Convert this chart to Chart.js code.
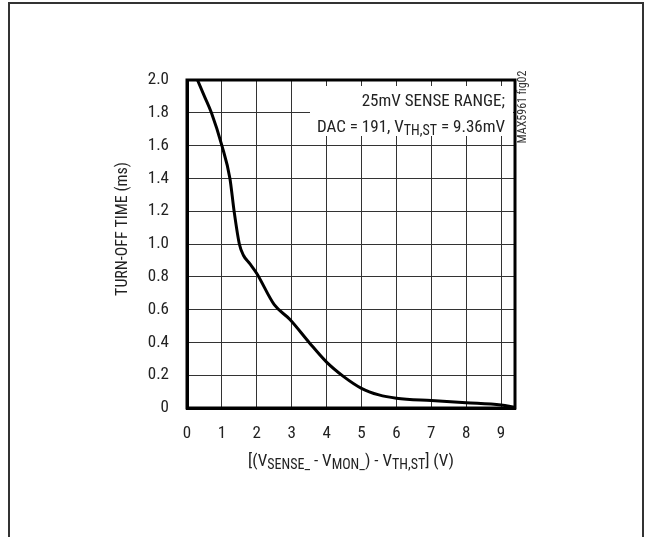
<!DOCTYPE html>
<html>
<head>
<meta charset="utf-8">
<script src="https://cdn.jsdelivr.net/npm/chart.js@4/dist/chart.umd.min.js"></script>
<style>
  html, body { margin: 0; padding: 0; background: #fff; }
  #wrap { position: relative; width: 650px; height: 537px; }
</style>
</head>
<body>
<div id="wrap"><canvas id="canvas-1" width="650" height="537"></canvas></div>
<script>
const FONT = "'Roboto Condensed', 'Liberation Sans', sans-serif"

// curve
const vDiff   = [0.3, 0.5, 0.7, 1.0, 1.23, 1.35, 1.5, 1.62, 1.8, 2.0, 2.5, 2.95, 3.5, 4.0, 4.5, 5.0, 5.5, 6.0, 7.0, 8.0, 9.0, 9.4]
const turnOff = [2.0, 1.9, 1.8, 1.6, 1.4, 1.2, 1.0, 0.93, 0.88, 0.82, 0.63, 0.54, 0.40, 0.28, 0.19, 0.12, 0.08, 0.06, 0.045, 0.032, 0.018, 0.005]

const xTickValues = [0, 1, 2, 3, 4, 5, 6, 7, 8, 9]
const xTickLabels = ['0', '1', '2', '3', '4', '5', '6', '7', '8', '9']
const yTickValues = [0, 0.2, 0.4, 0.6, 0.8, 1.0, 1.2, 1.4, 1.6, 1.8, 2.0]
const yTickLabels = ['0', '0.2', '0.4', '0.6', '0.8', '1.0', '1.2', '1.4', '1.6', '1.8', '2.0']

const yTitle = 'TURN-OFF TIME (ms)'
const xTitle = [['[(V', false], ['SENSE_', true], [' - V', false], ['MON_', true], [') - V', false], ['TH,ST', true], ['] (V)', false]]
const note1 = [['25mV SENSE RANGE;', false]]
const note2 = [['DAC = 191, V', false], ['TH,ST', true], [' = 9.36mV', false]]
const figId = 'MAX5961 fig02'

// text with subscripts
function richText(ctx, parts, x, y, align, size) {
  const sub = Math.round(size * 0.8)
  let w = 0
  parts.forEach(p => {
    ctx.font = (p[1] ? sub : size) + 'px ' + FONT
    w += ctx.measureText(p[0]).width
  })
  let cx = align === 'right' ? x - w : align === 'center' ? x - w / 2 : x
  ctx.textAlign = 'left'
  ctx.textBaseline = 'alphabetic'
  parts.forEach(p => {
    ctx.font = (p[1] ? sub : size) + 'px ' + FONT
    ctx.fillText(p[0], cx, p[1] ? y + 3 : y)
    cx += ctx.measureText(p[0]).width
  })
}

const decor = {
  id: 'decor',
  beforeDatasetsDraw(chart) {
    const ctx = chart.ctx
    ctx.save()
    ctx.fillStyle = '#fff'
    ctx.fillRect(310, 86, 203, 50)
    ctx.restore()
  },
  afterDraw(chart) {
    const ctx = chart.ctx
    const a = chart.chartArea
    ctx.save()
    // plot frame
    ctx.strokeStyle = '#000'
    ctx.lineWidth = 3
    ctx.strokeRect(a.left, a.top, a.right - a.left, a.bottom - a.top)
    // outer page frame
    ctx.strokeStyle = '#333'
    ctx.lineWidth = 2
    ctx.beginPath()
    ctx.moveTo(9, 537); ctx.lineTo(9, 3); ctx.lineTo(643, 3); ctx.lineTo(643, 537)
    ctx.stroke()

    ctx.fillStyle = '#222'
    richText(ctx, note1, 505, 106, 'right', 17)
    richText(ctx, note2, 505, 132, 'right', 17)
    richText(ctx, xTitle, 351, 466, 'center', 17)

    ctx.translate(123, 229)
    ctx.rotate(-Math.PI / 2)
    ctx.font = '16px ' + FONT
    ctx.textAlign = 'center'
    ctx.textBaseline = 'middle'
    ctx.fillText(yTitle, 0, 0)
    ctx.restore()

    ctx.save()
    ctx.translate(523, 107)
    ctx.rotate(-Math.PI / 2)
    ctx.font = '12px ' + FONT
    ctx.textAlign = 'center'
    ctx.textBaseline = 'middle'
    ctx.fillStyle = '#333'
    ctx.fillText(figId, 0, 0)
    ctx.restore()
  }
}

const turnOffChart = new Chart(document.getElementById('canvas-1'), {
  type: 'line',
  data: {
    datasets: [{
      data: vDiff.map((v, i) => ({ x: v, y: turnOff[i] })),
      borderColor: '#000',
      backgroundColor: 'transparent',
      borderWidth: 3,
      pointRadius: 0,
      cubicInterpolationMode: 'monotone'
    }]
  },
  options: {
    responsive: false,
    animation: false,
    events: [],
    layout: { padding: { top: 80, right: 135, bottom: 0, left: 0 } },
    plugins: { legend: { display: false }, tooltip: { enabled: false } },
    scales: {
      x: {
        type: 'linear',
        min: 0,
        max: 9.4,
        afterBuildTicks: s => { s.ticks = xTickValues.map(v => ({ value: v })) },
        afterFit: s => { s.height = 129 },
        grid: { color: '#333', lineWidth: 1, drawTicks: false },
        border: { color: '#000', width: 3 },
        ticks: {
          padding: 16,
          color: '#222',
          font: { family: FONT, size: 17 },
          callback: (v, i) => xTickLabels[i]
        }
      },
      y: {
        min: 0,
        max: 2,
        afterBuildTicks: s => { s.ticks = yTickValues.map(v => ({ value: v })) },
        afterFit: s => { s.width = 187 },
        grid: { color: '#333', lineWidth: 1, drawTicks: false },
        border: { color: '#000', width: 3 },
        ticks: {
          padding: 18,
          color: '#222',
          font: { family: FONT, size: 17 },
          callback: (v, i) => yTickLabels[i]
        }
      }
    }
  },
  plugins: [decor]
})
</script>
</body>
</html>
